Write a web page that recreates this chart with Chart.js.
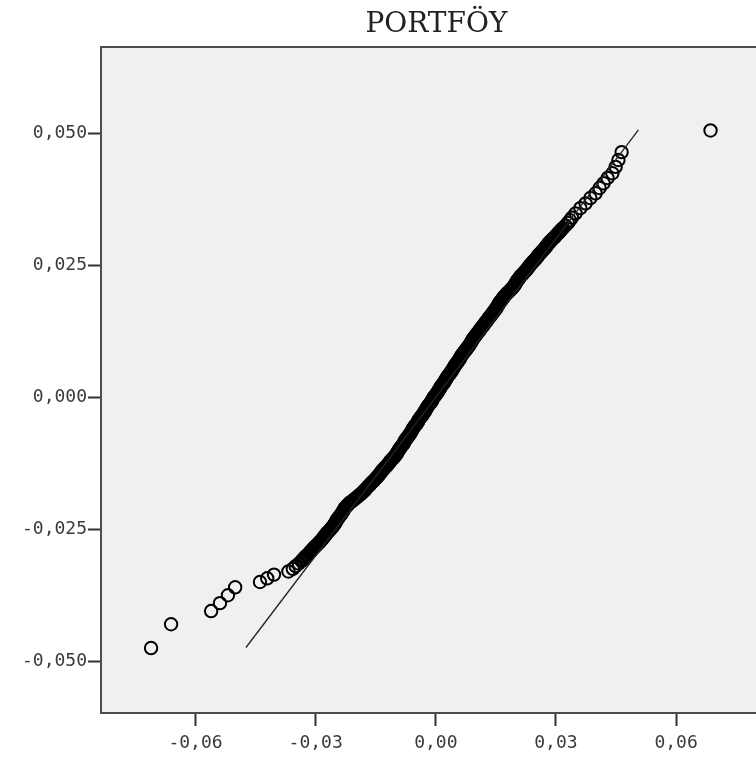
<!DOCTYPE html>
<html>
<head>
<meta charset="utf-8">
<title>PORTFÖY</title>
<script src="https://cdn.jsdelivr.net/npm/chart.js@4/dist/chart.umd.min.js"></script>
<style>
  html, body { margin: 0; padding: 0; background: #fff; overflow: hidden; }
  #wrap { width: 780px; height: 758px; }
</style>
</head>
<body>
<div id="wrap"><canvas id="qq" width="780" height="758"></canvas></div>
<script>
// Normal Q-Q plot — observed value (x) vs expected normal value (y)

const TITLE = "PORTFÖY";

// expected normal values, sorted (one row of the dense band per 0,001)
const expected = [
  -0.0475, -0.0430, -0.0405, -0.0390, -0.0375, -0.0360, -0.0350, -0.0343, -0.0336,
  -0.0330, -0.0325, -0.0320, -0.0315, -0.0310,
  -0.03075, -0.0305, -0.03025,
  -0.03000, -0.02975, -0.02950, -0.02925,
  -0.02900, -0.02875, -0.02850, -0.02825,
  -0.02800, -0.02775, -0.02750, -0.02725,
  -0.02700, -0.02675, -0.02650, -0.02625,
  -0.02600, -0.02575, -0.02550, -0.02525,
  -0.02500, -0.02475, -0.02450, -0.02425,
  -0.02400, -0.02375, -0.02350, -0.02325,
  -0.02300, -0.02275, -0.02250, -0.02225,
  -0.02200, -0.02175, -0.02150, -0.02125,
  -0.02100, -0.02075, -0.02050, -0.02025,
  -0.02000, -0.01975, -0.01950, -0.01925,
  -0.01900, -0.01875, -0.01850, -0.01825,
  -0.01800, -0.01775, -0.01750, -0.01725,
  -0.01700, -0.01675, -0.01650, -0.01625,
  -0.01600, -0.01575, -0.01550, -0.01525,
  -0.01500, -0.01475, -0.01450, -0.01425,
  -0.01400, -0.01375, -0.01350, -0.01325,
  -0.01300, -0.01275, -0.01250, -0.01225,
  -0.01200, -0.01175, -0.01150, -0.01125,
  -0.01100, -0.01075, -0.01050, -0.01025,
  -0.01000, -0.00975, -0.00950, -0.00925,
  -0.00900, -0.00875, -0.00850, -0.00825,
  -0.00800, -0.00775, -0.00750, -0.00725,
  -0.00700, -0.00675, -0.00650, -0.00625,
  -0.00600, -0.00575, -0.00550, -0.00525,
  -0.00500, -0.00475, -0.00450, -0.00425,
  -0.00400, -0.00375, -0.00350, -0.00325,
  -0.00300, -0.00275, -0.00250, -0.00225,
  -0.00200, -0.00175, -0.00150, -0.00125,
  -0.00100, -0.00075, -0.00050, -0.00025,
  0.00000, 0.00025, 0.00050, 0.00075,
  0.00100, 0.00125, 0.00150, 0.00175,
  0.00200, 0.00225, 0.00250, 0.00275,
  0.00300, 0.00325, 0.00350, 0.00375,
  0.00400, 0.00425, 0.00450, 0.00475,
  0.00500, 0.00525, 0.00550, 0.00575,
  0.00600, 0.00625, 0.00650, 0.00675,
  0.00700, 0.00725, 0.00750, 0.00775,
  0.00800, 0.00825, 0.00850, 0.00875,
  0.00900, 0.00925, 0.00950, 0.00975,
  0.01000, 0.01025, 0.01050, 0.01075,
  0.01100, 0.01125, 0.01150, 0.01175,
  0.01200, 0.01225, 0.01250, 0.01275,
  0.01300, 0.01325, 0.01350, 0.01375,
  0.01400, 0.01425, 0.01450, 0.01475,
  0.01500, 0.01525, 0.01550, 0.01575,
  0.01600, 0.01625, 0.01650, 0.01675,
  0.01700, 0.01725, 0.01750, 0.01775,
  0.01800, 0.01825, 0.01850, 0.01875,
  0.01900, 0.01925, 0.01950, 0.01975,
  0.02000, 0.02025, 0.02050, 0.02075,
  0.02100, 0.02125, 0.02150, 0.02175,
  0.02200, 0.02225, 0.02250, 0.02275,
  0.02300, 0.02325, 0.02350, 0.02375,
  0.02400, 0.02425, 0.02450, 0.02475,
  0.02500, 0.02525, 0.02550, 0.02575,
  0.02600, 0.02625, 0.02650, 0.02675,
  0.02700, 0.02725, 0.02750, 0.02775,
  0.02800, 0.02825, 0.02850, 0.02875,
  0.02900, 0.02925, 0.02950, 0.02975,
  0.03000, 0.03025, 0.03050, 0.03075,
  0.03100, 0.03125, 0.03150, 0.03175,
  0.0320, 0.0325, 0.0330, 0.0335, 0.0340,
  0.0348, 0.0358, 0.0367, 0.0377, 0.0386, 0.0396, 0.0405, 0.0415, 0.0424, 0.0436,
  0.0449, 0.0464, 0.0505,
];

// observed values, same order
const observed = [
  -0.0711, -0.0661, -0.0561, -0.0539, -0.0519, -0.0501, -0.0439, -0.0421, -0.0404,
  -0.0368, -0.0357, -0.0350, -0.0342, -0.0335,
  -0.0332, -0.0329, -0.0326,
  -0.03225, -0.0319, -0.0316, -0.0313,
  -0.0310, -0.0307, -0.0304, -0.0301,
  -0.02975, -0.0294, -0.0291, -0.0288,
  -0.0285, -0.0282, -0.0280, -0.0277,
  -0.0275, -0.0272, -0.0269, -0.0266,
  -0.02625, -0.0260, -0.0257, -0.0255,
  -0.02525, -0.0250, -0.0249, -0.0247,
  -0.0245, -0.0242, -0.0240, -0.0237,
  -0.0235, -0.0233, -0.0231, -0.0229,
  -0.02275, -0.0224, -0.0221, -0.0218,
  -0.0215, -0.0210, -0.0206, -0.0202,
  -0.01975, -0.0194, -0.0190, -0.0186,
  -0.01825, -0.0179, -0.0176, -0.0173,
  -0.0170, -0.0167, -0.0164, -0.0161,
  -0.01575, -0.0154, -0.0151, -0.0148,
  -0.0145, -0.0142, -0.0140, -0.0137,
  -0.0135, -0.0132, -0.0129, -0.0126,
  -0.01225, -0.0120, -0.0117, -0.0115,
  -0.01125, -0.0109, -0.0106, -0.0103,
  -0.0100, -0.0098, -0.0096, -0.0094,
  -0.00925, -0.0090, -0.0088, -0.0085,
  -0.00825, -0.0080, -0.0079, -0.0077,
  -0.0075, -0.0072, -0.0070, -0.0067,
  -0.0065, -0.0063, -0.0061, -0.0059,
  -0.00575, -0.0055, -0.0053, -0.0050,
  -0.00475, -0.0045, -0.0044, -0.0042,
  -0.0040, -0.0037, -0.0035, -0.0032,
  -0.0030, -0.0028, -0.0026, -0.0024,
  -0.00225, -0.0020, -0.0018, -0.0015,
  -0.00125, -0.0010, -0.0009, -0.0007,
  -0.0005, -0.0002, 0.0000, 0.0003,
  0.0005, 0.0007, 0.0009, 0.0011,
  0.00125, 0.0015, 0.0018, 0.0020,
  0.00225, 0.0024, 0.0026, 0.0028,
  0.0030, 0.0033, 0.0035, 0.0038,
  0.0040, 0.0042, 0.0044, 0.0046,
  0.00475, 0.0050, 0.0053, 0.0055,
  0.00575, 0.0060, 0.0061, 0.0063,
  0.0065, 0.0068, 0.0070, 0.0073,
  0.0075, 0.0078, 0.0080, 0.0083,
  0.0085, 0.0087, 0.0089, 0.0091,
  0.00925, 0.0095, 0.0098, 0.0100,
  0.01025, 0.0105, 0.0108, 0.0110,
  0.01125, 0.0115, 0.0118, 0.0120,
  0.01225, 0.0125, 0.0128, 0.0130,
  0.01325, 0.0135, 0.0138, 0.0140,
  0.01425, 0.0145, 0.0148, 0.0150,
  0.01525, 0.0154, 0.0156, 0.0158,
  0.0160, 0.0163, 0.0165, 0.0168,
  0.0170, 0.0173, 0.0176, 0.0179,
  0.01825, 0.0186, 0.0189, 0.0192,
  0.0195, 0.0197, 0.0199, 0.0201,
  0.02025, 0.0205, 0.0208, 0.0210,
  0.02125, 0.0216, 0.0219, 0.0222,
  0.0225, 0.0228, 0.0230, 0.0233,
  0.0235, 0.0238, 0.0241, 0.0244,
  0.02475, 0.0250, 0.0253, 0.0255,
  0.02575, 0.0261, 0.0264, 0.0267,
  0.0270, 0.0273, 0.0275, 0.0278,
  0.0280, 0.0283, 0.0286, 0.0289,
  0.02925, 0.0296, 0.0299, 0.0302,
  0.0305, 0.0308, 0.0311, 0.0314,
  0.03175, 0.0324, 0.0330, 0.0335, 0.0340,
  0.0349, 0.0361, 0.0374, 0.0386, 0.0399, 0.0409, 0.0419, 0.0429, 0.0441, 0.0449,
  0.0456, 0.0464, 0.0686,
];

// reference line y = x, spanning the expected range
const refLineX = [-0.0474, 0.0506];
const refLineY = [-0.0474, 0.0506];

const xTicks = [-0.06, -0.03, 0, 0.03, 0.06];
const xTickLabels = ["-0,06", "-0,03", "0,00", "0,03", "0,06"];
const yTicks = [-0.05, -0.025, 0, 0.025, 0.05];
const yTickLabels = ["-0,050", "-0,025", "0,000", "0,025", "0,050"];

const X_MIN = -0.0836, X_MAX = 0.0839;
const Y_MIN = -0.0598, Y_MAX = 0.0663;

const FRAME = "#4d4d4d";
const TICK_FONT = { family: "'DejaVu Sans Mono', monospace", size: 18 };

if (observed.length !== expected.length) console.error("length mismatch", observed.length, expected.length);

// plot background + frame (SPSS-style grey box)
const frame = {
  id: "frame",
  beforeDatasetsDraw(chart) {
    const { ctx, chartArea: a } = chart;
    ctx.save();
    ctx.fillStyle = "#f0f0f0";
    ctx.fillRect(a.left, a.top, a.right - a.left, a.bottom - a.top);
    ctx.restore();
  },
  afterDatasetsDraw(chart) {
    const { ctx, chartArea: a } = chart;
    ctx.save();
    ctx.strokeStyle = FRAME;
    ctx.lineWidth = 2;
    ctx.strokeRect(a.left, a.top, a.right - a.left, a.bottom - a.top);
    ctx.restore();
  },
};

const points = observed.map((x, i) => ({ x, y: expected[i] }));
const line = refLineX.map((x, i) => ({ x, y: refLineY[i] }));

new Chart(document.getElementById("qq"), {
  type: "scatter",
  data: {
    datasets: [
      {
        label: "Observed",
        data: points,
        pointStyle: "circle",
        pointRadius: 6.2,
        pointHoverRadius: 6.2,
        pointBackgroundColor: "rgba(0,0,0,0)",
        pointBorderColor: "#000",
        pointBorderWidth: 2,
        order: 2,
      },
      {
        type: "line",
        label: "Line",
        data: line,
        borderColor: "#222",
        borderWidth: 1.3,
        pointRadius: 0,
        fill: false,
        order: 1,
      },
    ],
  },
  options: {
    responsive: false,
    animation: false,
    layout: { padding: 0 },
    plugins: {
      legend: { display: false },
      tooltip: { enabled: false },
      title: {
        display: true,
        text: TITLE,
        fullSize: false,
        color: "#222",
        font: { family: "'DejaVu Serif', serif", size: 28, weight: "normal", lineHeight: 1.2 },
        padding: { top: 8, bottom: 5.4 },
      },
    },
    scales: {
      x: {
        type: "linear",
        min: X_MIN,
        max: X_MAX,
        afterBuildTicks: (s) => { s.ticks = xTicks.map((v) => ({ value: v })); },
        afterFit: (s) => { s.height = 45; },
        ticks: {
          callback: (v, i) => xTickLabels[i],
          font: TICK_FONT,
          color: "#3a3a3a",
          padding: 7,
          maxRotation: 0,
        },
        grid: { drawOnChartArea: false, tickLength: 13, tickColor: "#333", tickWidth: 2 },
        border: { display: false },
      },
      y: {
        type: "linear",
        min: Y_MIN,
        max: Y_MAX,
        afterBuildTicks: (s) => { s.ticks = yTicks.map((v) => ({ value: v })); },
        afterFit: (s) => { s.width = 101; },
        ticks: {
          callback: (v, i) => yTickLabels[i],
          font: TICK_FONT,
          color: "#3a3a3a",
          padding: 1,
        },
        grid: { drawOnChartArea: false, tickLength: 13, tickColor: "#333", tickWidth: 2 },
        border: { display: false },
      },
    },
  },
  plugins: [frame],
});
</script>
</body>
</html>
